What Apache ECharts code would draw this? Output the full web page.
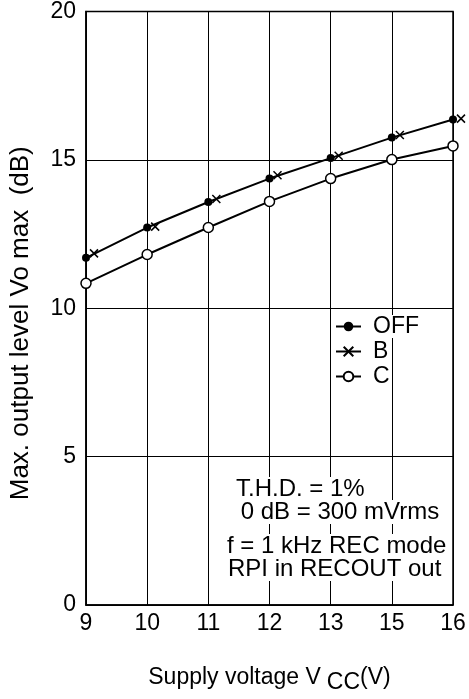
<!DOCTYPE html>
<html>
<head>
<meta charset="utf-8">
<script src="https://cdn.jsdelivr.net/npm/echarts@6/dist/echarts.min.js"></script>
<style>html,body{margin:0;padding:0;background:#fff;}#c{width:469px;height:699px;}</style>
</head>
<body>
<div id="c"></div>
<script>
const categories = ['9', '10', '11', '12', '13', '15', '16'];
const offValues = [11.7, 12.72, 13.58, 14.37, 15.06, 15.75, 16.36];
const bValues = [11.85, 12.75, 13.68, 14.48, 15.14, 15.84, 16.39];
const cValues = [10.84, 11.81, 12.72, 13.6, 14.37, 15.01, 15.47];
const yTicks = { min: 0, max: 20, interval: 5 };
const notes = ['T.H.D. = 1%', ' 0 dB = 300 mVrms', 'f = 1 kHz REC mode', 'RPI in RECOUT out'];
const xTitle = 'Supply voltage V{sub|CC}(V)';
const yTitle = 'Max. output level Vo max  (dB)';

const FONT = 'Liberation Sans, Arial, sans-serif';
const chart = echarts.init(document.getElementById('c'), null, { renderer: 'canvas' });

const notePos = [[236, 490], [234, 513], [227, 547], [228, 570]];
const graphics = notes.map((t, i) => ({
  type: 'text', left: notePos[i][0], top: notePos[i][1] - 13, z: 10,
  style: { text: t, fontSize: 24, fontFamily: FONT, fill: '#000', backgroundColor: '#fff' }
}));

chart.setOption({
  animation: false,
  backgroundColor: '#fff',
  grid: { left: 86, right: 16, top: 10, bottom: 85, show: true, borderColor: '#000', borderWidth: 1.5, backgroundColor: 'transparent' },
  legend: {
    orient: 'vertical', left: 330, top: 310, itemWidth: 25, itemHeight: 12, itemGap: 2,
    textStyle: { fontSize: 23, fontFamily: FONT, color: '#000', backgroundColor: '#fff', padding: [0, 0, 0, 7] },
    data: [
      { name: 'OFF' },
      { name: 'B', lineStyle: { opacity: 1, color: '#000', width: 2 } },
      { name: 'C' }
    ]
  },
  xAxis: {
    type: 'category', data: categories, boundaryGap: false,
    axisLine: { lineStyle: { color: '#000', width: 1.5 } },
    axisTick: { show: false },
    splitLine: { show: true, lineStyle: { color: '#000', width: 1 } },
    axisLabel: { fontSize: 23, fontFamily: FONT, color: '#000', margin: 7 },
    name: xTitle, nameLocation: 'middle', nameGap: 56,
    nameTextStyle: { fontSize: 23, fontFamily: FONT, color: '#000', rich: { sub: { fontSize: 23, fontFamily: FONT, color: '#000', verticalAlign: 'bottom', padding: [10, 0, 0, 6] } } }
  },
  yAxis: {
    type: 'value', min: yTicks.min, max: yTicks.max, interval: yTicks.interval,
    axisLine: { show: true, lineStyle: { color: '#000', width: 1.5 } },
    axisTick: { show: false },
    splitLine: { show: true, lineStyle: { color: '#000', width: 1 } },
    axisLabel: { fontSize: 23, fontFamily: FONT, color: '#000', margin: 10 },
    name: yTitle, nameLocation: 'middle', nameGap: 52, nameRotate: 90,
    nameTextStyle: { fontSize: 26, fontFamily: FONT, color: '#000', padding: [0, 30, 0, 0] }
  },
  series: [
    { name: 'OFF', type: 'line', data: offValues, symbol: 'circle', symbolSize: 8,
      itemStyle: { color: '#000' }, lineStyle: { color: '#000', width: 2 }, z: 3 },
    { name: 'B', type: 'line', data: bValues, symbol: 'path://M0,0L10,10M10,0L0,10', symbolSize: 8,
      symbolOffset: [8, 0], itemStyle: { color: 'none', borderColor: '#000', borderWidth: 1.5 },
      lineStyle: { color: '#000', width: 2, opacity: 0 }, z: 2 },
    { name: 'C', type: 'line', data: cValues, symbol: 'circle', symbolSize: 10,
      itemStyle: { color: '#fff', borderColor: '#000', borderWidth: 1.5 }, lineStyle: { color: '#000', width: 2 }, z: 3 }
  ],
  graphic: graphics
});
</script>
</body>
</html>
